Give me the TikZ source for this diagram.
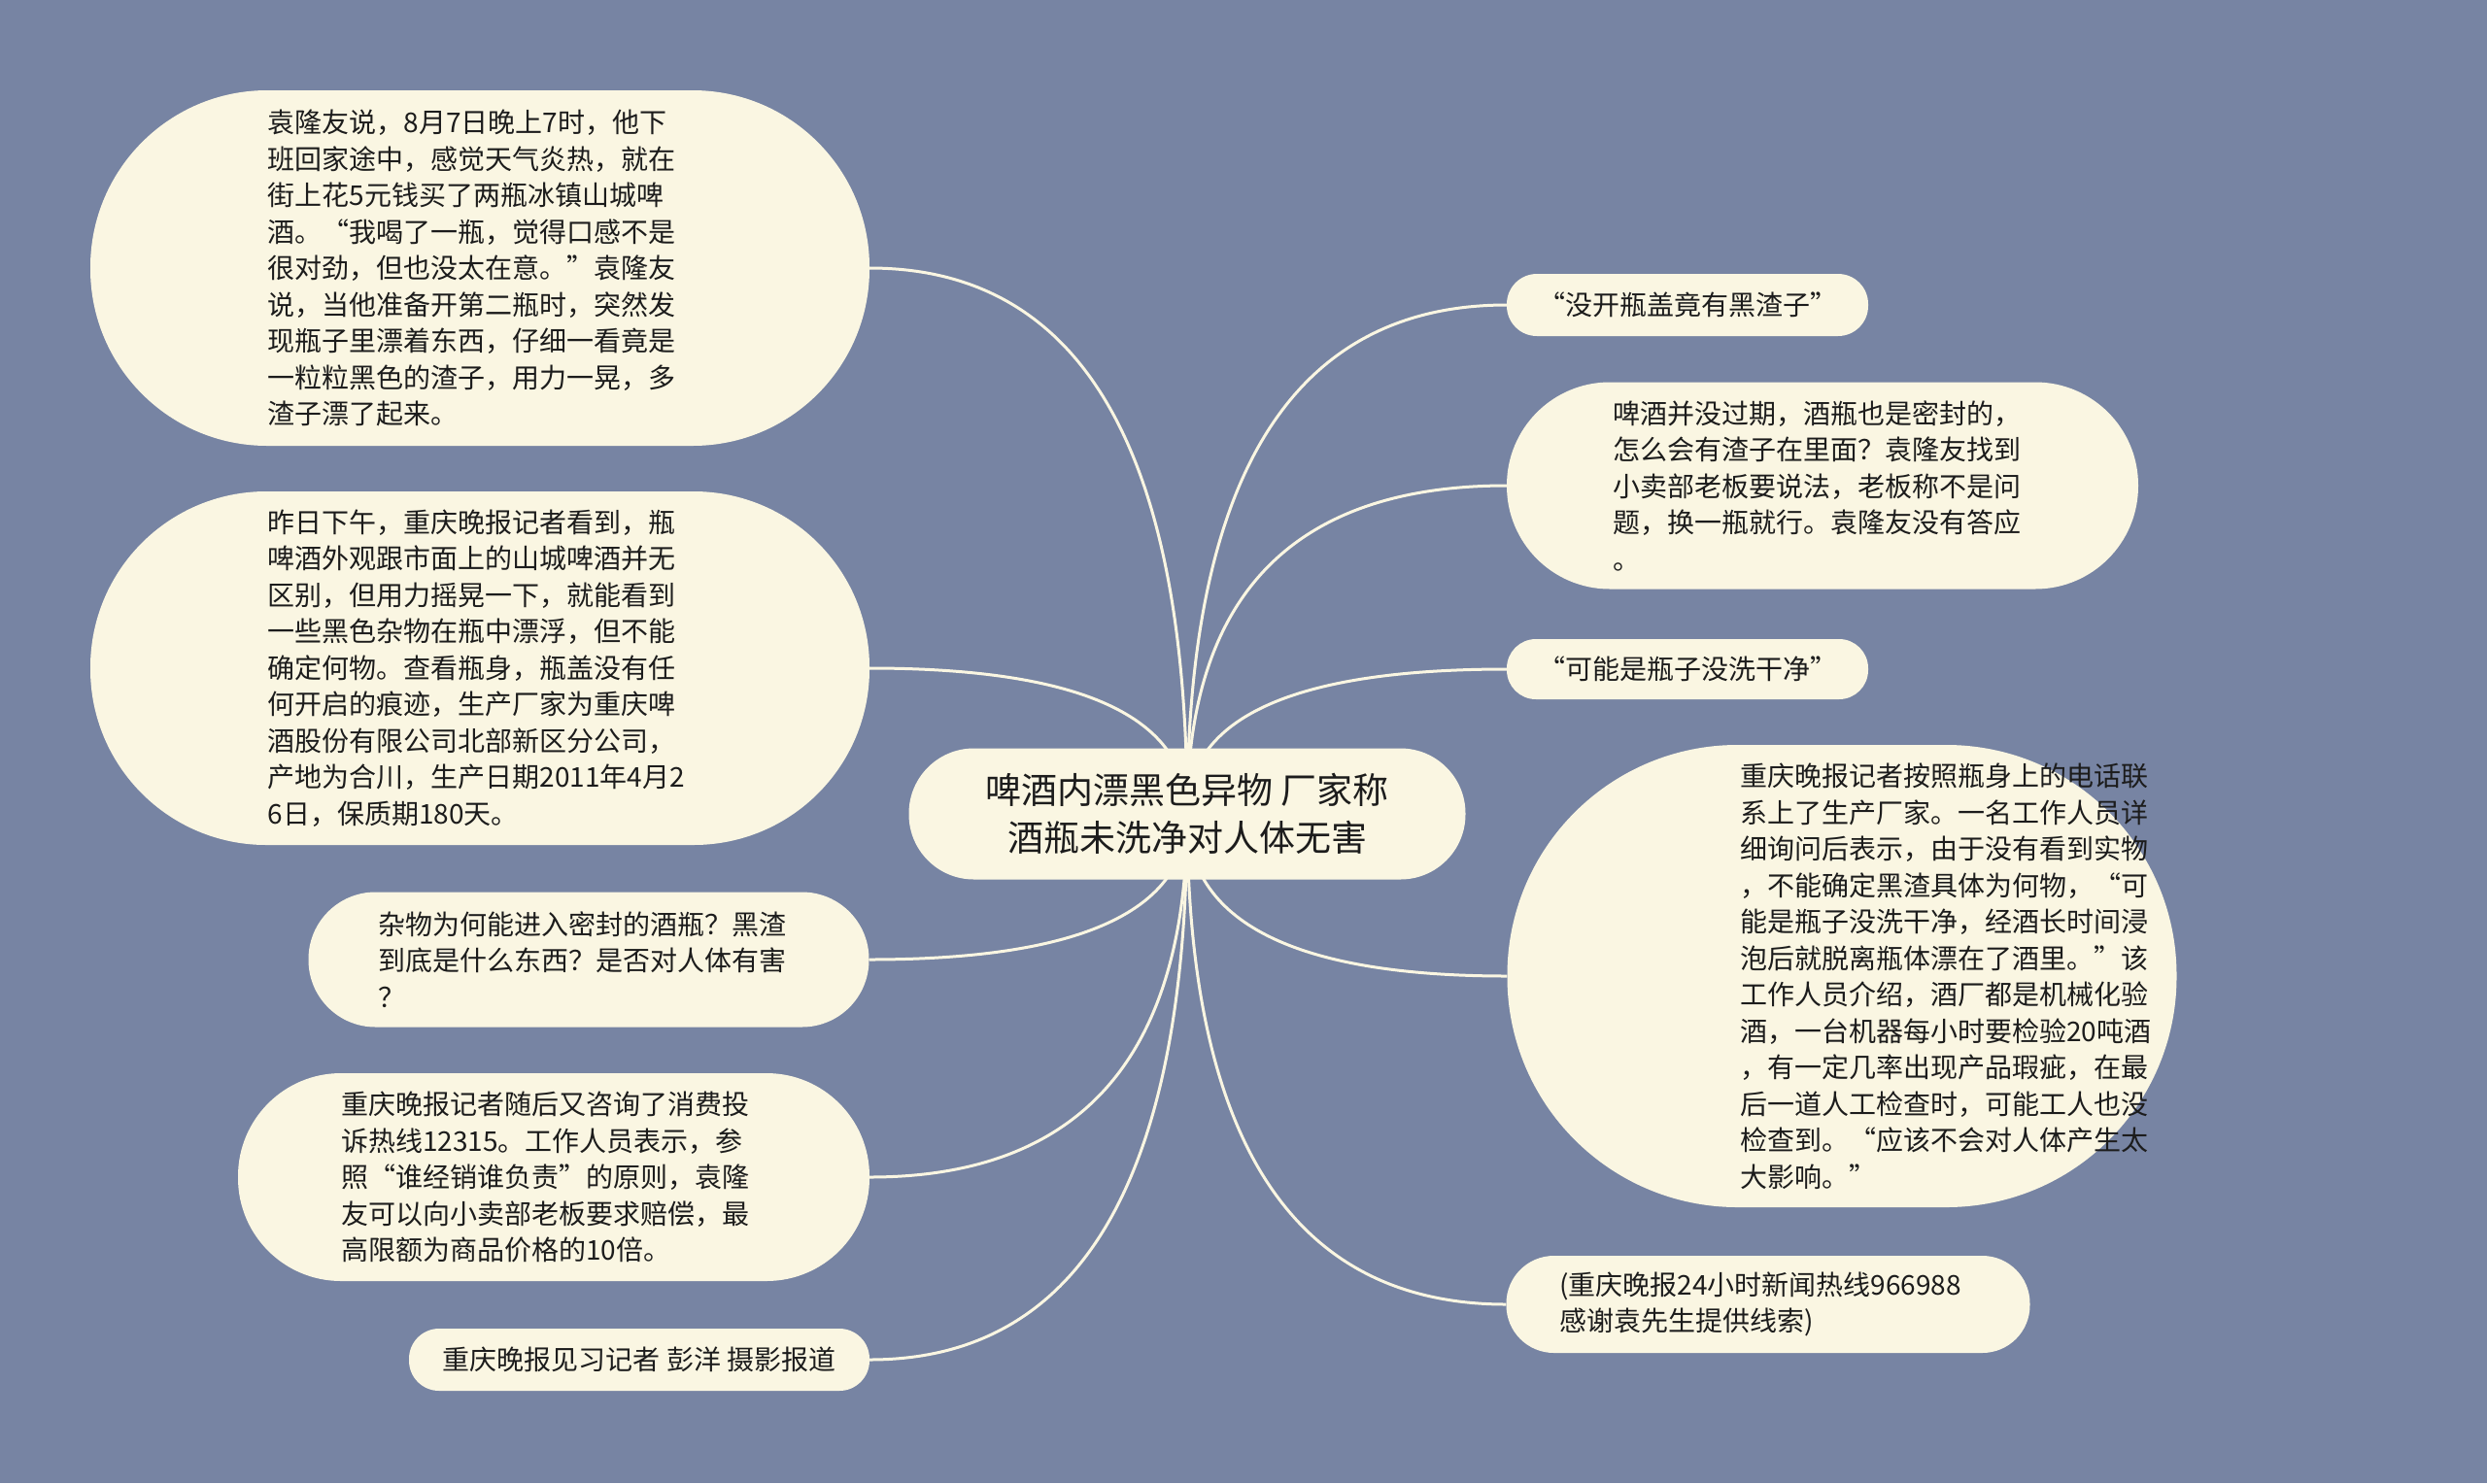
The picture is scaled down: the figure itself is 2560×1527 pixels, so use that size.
\documentclass[tikz,border=0pt]{standalone}
\usepackage{fontspec}
\setmainfont{Noto Sans CJK SC}
\usetikzlibrary{calc,backgrounds}
\definecolor{bg}{RGB}{119,132,163}
\definecolor{cream}{RGB}{250,246,226}
\definecolor{ink}{RGB}{28,28,28}
\tikzset{
  bubble/.style={fill=cream, draw=none, inner sep=0pt, text=ink,
    font=\fontsize{28pt}{37.5pt}\selectfont},
  body/.style={align=left, text width=#1},
  link/.style={draw=cream, line width=3pt},
}
\newcommand\mmlink[2]{%
  \draw[link] (#1.center) .. controls ($(#1.center)!2/3!(#1.center |- #2)$)
    and ($(#2)!2/3!(#1.center |- #2)$) .. (#2);}
\begin{document}
\begin{tikzpicture}[x=1pt,y=-1pt]
\useasboundingbox (0,0) rectangle (2560,1527);
\begin{scope}[on background layer]
  \fill[bg] (0,0) rectangle (2560,1527);
\end{scope}

% central topic
\node[bubble, minimum width=573pt, minimum height=135pt, rounded corners=67pt,
  align=center, font=\fontsize{37pt}{49pt}\selectfont] (c) at (1222,838)
  {啤酒内漂黑色异物 厂家称\\酒瓶未洗净对人体无害};

% left side
\node[bubble, body=437pt, minimum width=802pt, minimum height=366pt, rounded corners=182pt] (n1) at (494,276)
{袁隆友说，8月7日晚上7时，他下\\
班回家途中，感觉天气炎热，就在\\
街上花5元钱买了两瓶冰镇山城啤\\
酒。“我喝了一瓶，觉得口感不是\\
很对劲，但也没太在意。”袁隆友\\
说，当他准备开第二瓶时，突然发\\
现瓶子里漂着东西，仔细一看竟是\\
一粒粒黑色的渣子，用力一晃，多\\
渣子漂了起来。};

\node[bubble, body=437pt, minimum width=802pt, minimum height=364pt, rounded corners=181pt] (n2) at (494,688)
{昨日下午，重庆晚报记者看到，瓶\\
啤酒外观跟市面上的山城啤酒并无\\
区别，但用力摇晃一下，就能看到\\
一些黑色杂物在瓶中漂浮，但不能\\
确定何物。查看瓶身，瓶盖没有任\\
何开启的痕迹，生产厂家为重庆啤\\
酒股份有限公司北部新区分公司，\\
产地为合川，生产日期2011年4月2\\
6日，保质期180天。};

\node[bubble, body=434pt, minimum width=577pt, minimum height=139pt, rounded corners=69pt] (n3) at (606,988)
{杂物为何能进入密封的酒瓶？黑渣\\
到底是什么东西？是否对人体有害\\
？};

\node[bubble, body=438pt, minimum width=650pt, minimum height=214pt, rounded corners=106pt] (n4) at (570,1212)
{重庆晚报记者随后又咨询了消费投\\
诉热线12315。工作人员表示，参\\
照“谁经销谁负责”的原则，袁隆\\
友可以向小卖部老板要求赔偿，最\\
高限额为商品价格的10倍。};

\node[bubble, minimum width=474pt, minimum height=64pt, rounded corners=31pt] (n5) at (658,1400)
{重庆晚报见习记者 彭洋 摄影报道};

% right side
\node[bubble, minimum width=372pt, minimum height=64pt, rounded corners=31pt] (r1) at (1737,314)
{“没开瓶盖竟有黑渣子”};

\node[bubble, body=432pt, minimum width=650pt, minimum height=213pt, rounded corners=106pt] (r2) at (1876,500)
{啤酒并没过期，酒瓶也是密封的，\\
怎么会有渣子在里面？袁隆友找到\\
小卖部老板要说法，老板称不是问\\
题，换一瓶就行。袁隆友没有答应\\
。};

\node[bubble, minimum width=372pt, minimum height=62pt, rounded corners=30pt] (r3) at (1737,689)
{“可能是瓶子没洗干净”};

\node[bubble, minimum width=689pt, minimum height=476pt, rounded corners=237pt] (r4) at (1896,1005)
{\hspace*{230pt}\parbox{440pt}{\raggedright
重庆晚报记者按照瓶身上的电话联\\
系上了生产厂家。一名工作人员详\\
细询问后表示，由于没有看到实物\\
，不能确定黑渣具体为何物，“可\\
能是瓶子没洗干净，经酒长时间浸\\
泡后就脱离瓶体漂在了酒里。”该\\
工作人员介绍，酒厂都是机械化验\\
酒，一台机器每小时要检验20吨酒\\
，有一定几率出现产品瑕疵，在最\\
后一道人工检查时，可能工人也没\\
检查到。“应该不会对人体产生太\\
大影响。”}};

\node[bubble, body=430pt, minimum width=539pt, minimum height=100pt, rounded corners=49pt] (r5) at (1820,1343)
{(重庆晚报24小时新闻热线966988\\
感谢袁先生提供线索)};

\begin{scope}[on background layer]
  \mmlink{c}{n1.east}
  \mmlink{c}{n2.east}
  \mmlink{c}{n3.east}
  \mmlink{c}{n4.east}
  \mmlink{c}{n5.east}
  \mmlink{c}{r1.west}
  \mmlink{c}{r2.west}
  \mmlink{c}{r3.west}
  \mmlink{c}{r4.west}
  \mmlink{c}{r5.west}
\end{scope}
\end{tikzpicture}
\end{document}
